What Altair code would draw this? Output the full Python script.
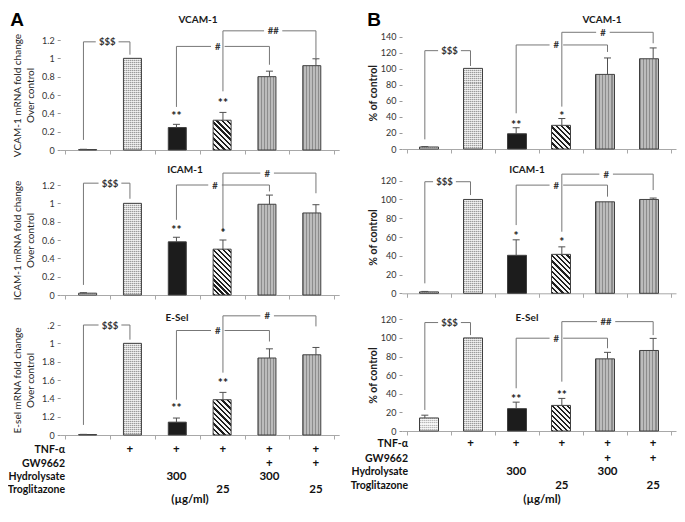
import json
import altair as alt
import pandas as pd

# ---------------- values ----------------
treatments = ["Control", "TNF-α", "TNF-α + Hydrolysate 300", "TNF-α + Troglitazone 25",
              "TNF-α + GW9662 + Hydrolysate 300", "TNF-α + GW9662 + Troglitazone 25"]
bar_index = [0, 1, 2, 3, 4, 5]

# Panel A : mRNA fold change over control
vcam_a = [0.005, 1.0, 0.245, 0.325, 0.80, 0.92]
vcam_a_err = [0.003, 0.0, 0.035, 0.085, 0.06, 0.075]
icam_a = [0.02, 1.0, 0.58, 0.50, 0.99, 0.895]
icam_a_err = [0.005, 0.0, 0.05, 0.10, 0.10, 0.09]
esel_a = [0.005, 1.0, 0.14, 0.385, 0.84, 0.875]
esel_a_err = [0.002, 0.0, 0.045, 0.08, 0.10, 0.08]

# Panel B : % of control
vcam_b = [2.5, 100.5, 19.0, 29.5, 93.0, 112.5]
vcam_b_err = [0.5, 0.0, 7.5, 8.5, 20.5, 13.5]
icam_b = [1.5, 100.0, 40.5, 41.5, 97.5, 100.0]
icam_b_err = [0.5, 0.0, 16.5, 8.0, 0.0, 1.5]
esel_b = [14.0, 100.0, 24.0, 27.5, 77.5, 86.5]
esel_b_err = [3.0, 0.0, 7.0, 7.5, 7.0, 13.0]

# significance brackets: (from bar, to bar, start at from bar, start at to bar, bracket height, label, label position)
vcam_a_brackets = [(0, 1, 0.11, 1.04, 1.18, "$$$", 0.51), (2, 4, 0.47, 0.93, 1.13, "#", 2.89),
                   (3, 5, 0.64, 0.98, 1.30, "##", 4.08)]
icam_a_brackets = [(0, 1, 0.11, 1.05, 1.22, "$$$", 0.57), (2, 4, 0.82, 1.13, 1.20, "#", 2.83),
                   (3, 5, 0.69, 1.11, 1.33, "#", 3.95)]
esel_a_brackets = [(0, 1, 0.11, 1.04, 1.20, "$$$", 0.57), (2, 4, 0.385, 1.02, 1.14, "#", 2.89),
                   (3, 5, 0.68, 1.185, 1.30, "#", 3.95)]
vcam_b_brackets = [(0, 1, 12.0, 103.5, 122.6, "$$$", 0.54), (2, 4, 44.5, 121.0, 129.7, "#", 2.88),
                   (3, 5, 52.8, 131.8, 145.5, "#", 3.90)]
icam_b_brackets = [(0, 1, 10.6, 104.7, 118.9, "$$$", 0.43), (2, 4, 72.7, 103.0, 115.3, "#", 2.88),
                   (3, 5, 65.6, 110.0, 127.0, "#", 3.97)]
esel_b_brackets = [(0, 1, 22.6, 103.0, 116.5, "$$$", 0.54), (2, 4, 45.9, 88.9, 99.7, "#", 2.88),
                   (3, 5, 53.0, 103.0, 117.5, "##", 3.97)]

# asterisks: (bar, text, height)
vcam_a_stars = [(2, "**", 0.40), (3, "**", 0.545)]
icam_a_stars = [(2, "**", 0.745), (3, "*", 0.71)]
esel_a_stars = [(2, "**", 0.33), (3, "**", 0.60)]
vcam_b_stars = [(2, "**", 34.0), (3, "*", 44.5)]
icam_b_stars = [(2, "*", 64.5), (3, "*", 57.8)]
esel_b_stars = [(2, "**", 37.6), (3, "**", 42.3)]

a_ticks = [0, 0.2, 0.4, 0.6, 0.8, 1.0, 1.2]
a_tick_labels = ["0", "0.2", "0.4", "0.6", "0.8", "1", "1.2"]
esel_a_tick_labels = ["0", "1.2", "1.4", "1.6", "1.8", "1", ".2"]
b140_ticks = [0, 20, 40, 60, 80, 100, 120, 140]
b120_ticks = [0, 20, 40, 60, 80, 100, 120]
b140_tick_labels = ["0", "20", "40", "60", "80", "100", "120", "140"]
b120_tick_labels = ["0", "20", "40", "60", "80", "100", "120"]

panel_titles = ["VCAM-1", "ICAM-1", "E-Sel"]
a_axis_titles = [["VCAM-1 mRNA fold change", "Over control"],
                 ["ICAM-1 mRNA fold change", "Over control"],
                 ["E-sel mRNA fold change", "Over control"]]
b_axis_title = "% of control"

row_names = ["TNF-α", "GW9662", "Hydrolysate", "Troglitazone"]
tnf_row = ["", "+", "+", "+", "+", "+"]
gw_row = ["", "", "", "", "+", "+"]
hyd_row = ["", "", "300", "", "300", ""]
trog_row = ["", "", "", "25", "", "25"]
unit_label = "(µg/ml)"
panel_letters = ["A", "B"]

# ---------------- layout (pixels) ----------------
W, H = 669, 498
A_X = [52.2, 331.2]
B_X = [394.0, 668.0]
FONT = "Lato"


def stripes(c1, c2, n, x1, y1, x2, y2, duty=0.5):
    n = max(1, int(round(n)))
    stops = []
    for k in range(n):
        a, b, c = k / n, (k + duty) / n, (k + 1) / n
        stops += [alt.GradientStop(color=c1, offset=a), alt.GradientStop(color=c1, offset=b),
                  alt.GradientStop(color=c2, offset=b), alt.GradientStop(color=c2, offset=c)]
    return alt.LinearGradient(gradient="linear", stops=stops, x1=x1, y1=y1, x2=x2, y2=y2)


def label_expr(ticks, labels):
    return f"{json.dumps(labels)}[indexof({json.dumps(ticks)}, datum.value)]"


panels = [
    dict(vals=vcam_a, err=vcam_a_err, dom=1.2, xr=A_X, zero=142.0, top=32.0, ticks=a_ticks,
         tl=a_tick_labels, at=a_axis_titles[0], title=panel_titles[0], tx=190, ty=12,
         br=vcam_a_brackets, st=vcam_a_stars, bw=18, side="A"),
    dict(vals=icam_a, err=icam_a_err, dom=1.2, xr=A_X, zero=287.0, top=177.0, ticks=a_ticks,
         tl=a_tick_labels, at=a_axis_titles[1], title=panel_titles[1], tx=177, ty=162,
         br=icam_a_brackets, st=icam_a_stars, bw=18, side="A"),
    dict(vals=esel_a, err=esel_a_err, dom=1.2, xr=A_X, zero=427.0, top=317.0, ticks=a_ticks,
         tl=esel_a_tick_labels, at=a_axis_titles[2], title=panel_titles[2], tx=169, ty=310,
         br=esel_a_brackets, st=esel_a_stars, bw=18, side="A",
         table=dict(rows=[442, 456, 469, 482], lx=57, ux=182, uy=492)),
    dict(vals=vcam_b, err=vcam_b_err, dom=140, xr=B_X, zero=141.0, top=28.7, ticks=b140_ticks,
         tl=b140_tick_labels, at=b_axis_title, title=panel_titles[0], tx=594, ty=12,
         br=vcam_b_brackets, st=vcam_b_stars, bw=19, side="B"),
    dict(vals=icam_b, err=icam_b_err, dom=120, xr=B_X, zero=285.3, top=172.7, ticks=b120_ticks,
         tl=b120_tick_labels, at=b_axis_title, title=panel_titles[1], tx=519, ty=162,
         br=icam_b_brackets, st=icam_b_stars, bw=19, side="B"),
    dict(vals=esel_b, err=esel_b_err, dom=120, xr=B_X, zero=423.0, top=311.3, ticks=b120_ticks,
         tl=b120_tick_labels, at=b_axis_title, title=panel_titles[2], tx=519, ty=310,
         br=esel_b_brackets, st=esel_b_stars, bw=19, side="B",
         table=dict(rows=[436, 451, 464, 478], lx=400, ux=534, uy=492)),
]


def build_panel(p):
    xsc = alt.Scale(domain=[-0.5, 5.5], range=p["xr"], nice=False, zero=False)
    ysc = alt.Scale(domain=[0, p["dom"]], range=[p["zero"], p["top"]], nice=False, zero=False)

    def X(f):
        return alt.X(f, type="quantitative", scale=xsc, axis=None)

    def Y(f):
        return alt.Y(f, type="quantitative", scale=ysc, axis=None)

    df = pd.DataFrame({"i": bar_index, "v": p["vals"], "e": p["err"]})
    df["base"] = 0.0
    df["hi"] = df["v"] + df["e"]
    bw = p["bw"]
    ppu = (p["zero"] - p["top"]) / p["dom"]
    h = [v * ppu for v in p["vals"]]
    cat_px = (p["xr"][1] - p["xr"][0]) / 6.0
    base = alt.Chart(df)

    def bar(sel, fill):
        return base.transform_filter(sel).mark_bar(size=bw, fill=fill, strokeWidth=0).encode(
            x=X("i"), y=Y("v"), y2=alt.Y2(field="base"))

    layers = []
    for k, (c1, c2) in ((0, ("#b8b8b8", "#f0f0f0")), (1, ("#9c9c9c", "#e4e4e4"))):
        sel = alt.datum.i == k
        layers.append(bar(sel, stripes(c1, c2, h[k] / 2.0, 0, 0, 0, 1)))
        layers.append(bar(sel, stripes("rgba(255,255,255,0.5)", "rgba(255,255,255,0)", bw / 2.0, 0, 0, 1, 0)))
    layers.append(bar(alt.datum.i == 2, "#1c1c1c"))
    r = max(h[3], 1.0) / bw
    a = (1 + r) / (1 + r * r)
    n = (bw + h[3]) / (1.414 * 3.6)
    layers.append(bar(alt.datum.i == 3, stripes("#1e1e1e", "#f5f5f5", n, 0, 1, a, 1 - a * r, 0.45)))
    layers.append(bar(alt.datum.i >= 4, stripes("#8c8c8c", "#bcbcbc", 6, 0, 0, 1, 0, 0.38)))

    yaxis = alt.Axis(orient="left", offset=-p["xr"][0], values=p["ticks"],
                     labelExpr=label_expr(p["ticks"], p["tl"]), title=p["at"],
                     titleFontSize=10 if p["side"] == "A" else 10.5,
                     titleFontWeight="normal" if p["side"] == "A" else "bold",
                     titleColor="#1e1e1e", titlePadding=6 if p["side"] == "A" else 2,
                     titleLineHeight=13, labelFontSize=9, labelColor="#333333", labelPadding=3,
                     tickSize=3, tickColor="#999999", domain=False, grid=False,
                     labelFlush=False, labelOverlap=False)
    xaxis = alt.Axis(orient="bottom", offset=p["zero"] - H, values=[-0.5, 0.5, 1.5, 2.5, 3.5, 4.5, 5.5],
                     labels=False, tickSize=4, tickColor="#a8a8a8", domainColor="#a8a8a8",
                     grid=False, title="")
    layers.append(base.mark_bar(size=bw, fill="transparent", stroke="#404040", strokeWidth=1).encode(
        x=alt.X("i", type="quantitative", scale=xsc, axis=xaxis),
        y=alt.Y("v", type="quantitative", scale=ysc, axis=yaxis),
        y2=alt.Y2(field="base")))

    dfe = df[df["e"] > 0]
    layers.append(alt.Chart(dfe).mark_rule(color="#505050", strokeWidth=1).encode(
        x=X("i"), y=Y("v"), y2=alt.Y2(field="hi")))
    layers.append(alt.Chart(dfe).mark_rule(color="#505050", strokeWidth=1, xOffset=-3.5, x2Offset=3.5).encode(
        x=X("i"), x2=alt.X2(field="i"), y=Y("hi")))

    segs, labs = [], []
    for (i, j, yi, yj, yt, lab, lp) in p["br"]:
        g = (4.5 + 2.3 * len(lab)) / cat_px
        segs += [dict(x=i, x2=i, y=yi, y2=yt), dict(x=j, x2=j, y=yj, y2=yt),
                 dict(x=i, x2=lp - g, y=yt, y2=yt), dict(x=lp + g, x2=j, y=yt, y2=yt)]
        labs.append(dict(lp=lp, yt=yt, lab=lab))
    layers.append(alt.Chart(pd.DataFrame(segs)).mark_rule(color="#777777", strokeWidth=1).encode(
        x=X("x"), x2=alt.X2(field="x2"), y=Y("y"), y2=alt.Y2(field="y2")))
    layers.append(alt.Chart(pd.DataFrame(labs)).mark_text(fontSize=9.5, fontWeight="bold", color="#333333",
                                                          baseline="middle", dy=0.5).encode(
        x=X("lp"), y=Y("yt"), text="lab:N"))

    stars = pd.DataFrame([dict(i=i, s=s, y=y) for (i, s, y) in p["st"]])
    layers.append(alt.Chart(stars).mark_text(fontSize=12, fontWeight="bold", color="#1a1a1a",
                                             baseline="middle", dy=3).encode(
        x=X("i"), y=Y("y"), text="s:N"))

    layers.append(alt.Chart(pd.DataFrame({"t": [p["title"]]})).mark_text(
        fontSize=10, fontWeight="bold", color="#1a1a1a", baseline="middle").encode(
        x=alt.value(p["tx"]), y=alt.value(p["ty"]), text="t:N"))

    if "table" in p:
        t = p["table"]
        for name, cells, ry in zip(row_names, [tnf_row, gw_row, hyd_row, trog_row], t["rows"]):
            cdf = pd.DataFrame({"i": bar_index, "t": cells})
            cdf = cdf[cdf["t"] != ""]
            layers.append(alt.Chart(cdf).mark_text(fontSize=11.5, fontWeight="bold", color="#111111",
                                                   baseline="middle").encode(
                x=X("i"), y=alt.value(ry), text="t:N"))
            layers.append(alt.Chart(pd.DataFrame({"t": [name]})).mark_text(
                fontSize=10.5, fontWeight="bold", color="#111111", baseline="middle", align="right").encode(
                x=alt.value(t["lx"]), y=alt.value(ry), text="t:N"))
        layers.append(alt.Chart(pd.DataFrame({"t": [unit_label]})).mark_text(
            fontSize=11.5, fontWeight="bold", color="#111111", baseline="middle").encode(
            x=alt.value(t["ux"]), y=alt.value(t["uy"]), text="t:N"))
    return layers


letters = alt.Chart(pd.DataFrame({"t": panel_letters, "px": [9, 366]})).mark_text(
    fontSize=19, fontWeight="bold", font="Liberation Sans", color="#000000", baseline="alphabetic").encode(
    x=alt.X("px:Q", scale=alt.Scale(domain=[0, W], range=[0, W], nice=False, zero=False), axis=None),
    y=alt.value(18), text="t:N")

all_layers = []
for p in panels:
    all_layers += build_panel(p)
all_layers.append(letters)

chart = alt.layer(*all_layers).resolve_scale(
    x="independent", y="independent"
).properties(
    width=W, height=H, autosize=alt.AutoSizeParams(type="none"), padding=0
).configure_view(strokeWidth=0).configure_axis(labelFont=FONT, titleFont=FONT).configure_text(font=FONT)

chart.save("out.html", embed_options={"renderer": "svg", "actions": False})
